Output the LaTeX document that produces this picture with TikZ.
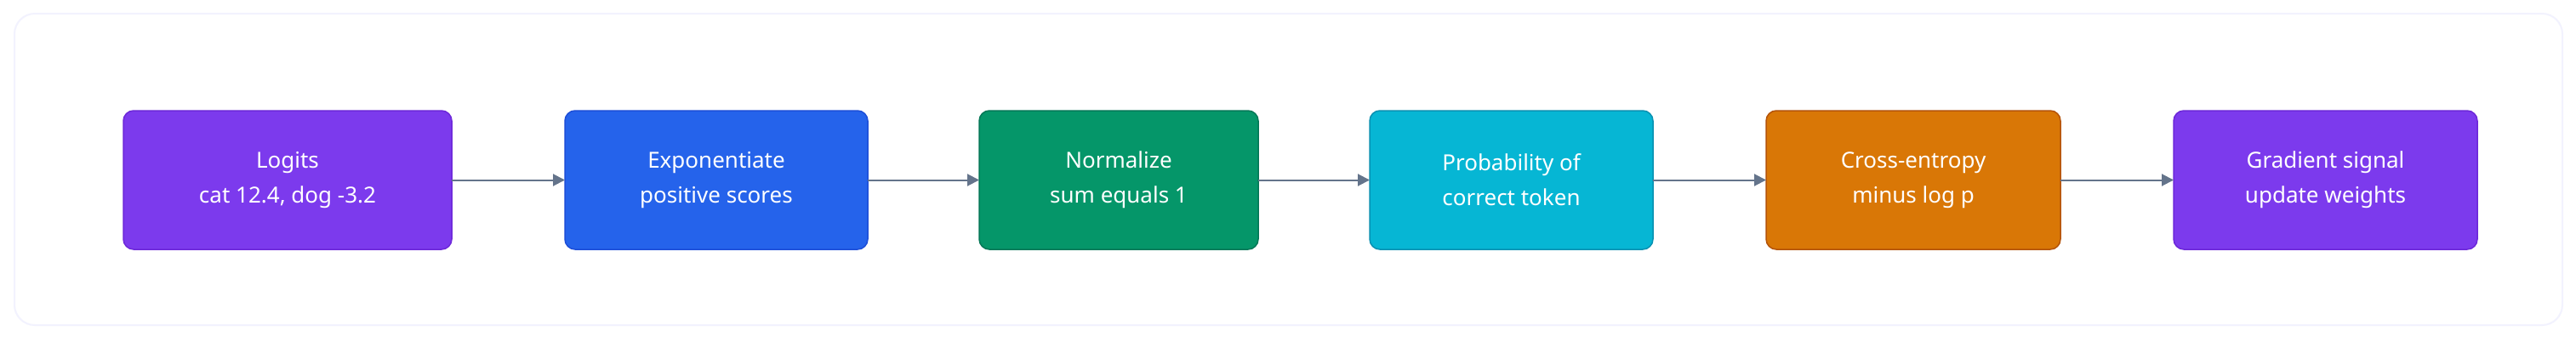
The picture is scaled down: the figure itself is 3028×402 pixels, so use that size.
\documentclass[tikz,border=0pt]{standalone}
\usepackage{fontspec}
\setmainfont{Noto Sans}
\usetikzlibrary{arrows.meta}
\definecolor{cpur}{HTML}{7C3AED}\definecolor{cpurd}{HTML}{6D28D9}
\definecolor{cblu}{HTML}{2563EB}\definecolor{cblud}{HTML}{1D4ED8}
\definecolor{cgrn}{HTML}{059669}\definecolor{cgrnd}{HTML}{047857}
\definecolor{ccyn}{HTML}{06B6D4}\definecolor{ccynd}{HTML}{0891B2}
\definecolor{corg}{HTML}{D97706}\definecolor{corgd}{HTML}{B45309}
\definecolor{carr}{HTML}{64748B}
\begin{document}
\begin{tikzpicture}[x=1pt,y=-1pt,
 box/.style={rounded corners=12pt,line width=1.5pt,text=white,align=center,font=\fontsize{26}{41}\selectfont,inner sep=0pt},
 arr/.style={carr,line width=2pt,-{Triangle[length=14pt,width=14pt]}}]
\useasboundingbox (0,0) rectangle (3028,402);
\fill[white] (0,0) rectangle (3028,402);
\draw[fill=black!2!white!98!blue!1,draw=black!10!blue!5,line width=2pt,rounded corners=24pt] (17,16) rectangle (3012,382);
\def\bx#1#2#3#4#5#6{\draw[box,fill=#4,draw=#5] (#2,130) rectangle (#3,293);
 \node[box] (#1) at ({(#2+#3)/2},211.5) {#6};
 \coordinate (#1w) at (#2,211.5); \coordinate (#1e) at (#3,211.5);}
\bx{a}{145}{531}{cpur}{cpurd}{Logits\\cat 12.4, dog -3.2}
\bx{b}{664}{1020}{cblu}{cblud}{Exponentiate\\positive scores}
\bx{c}{1151}{1479}{cgrn}{cgrnd}{Normalize\\sum equals 1}
\bx{d}{1610}{1943}{ccyn}{ccynd}{Probability of\\correct token}
\bx{e}{2076}{2422}{corg}{corgd}{Cross-entropy\\minus log p}
\bx{f}{2555}{2912}{cpur}{cpurd}{Gradient signal\\update weights}
\draw[arr] (ae) -- (bw);
\draw[arr] (be) -- (cw);
\draw[arr] (ce) -- (dw);
\draw[arr] (de) -- (ew);
\draw[arr] (ee) -- (fw);
\end{tikzpicture}
\end{document}
